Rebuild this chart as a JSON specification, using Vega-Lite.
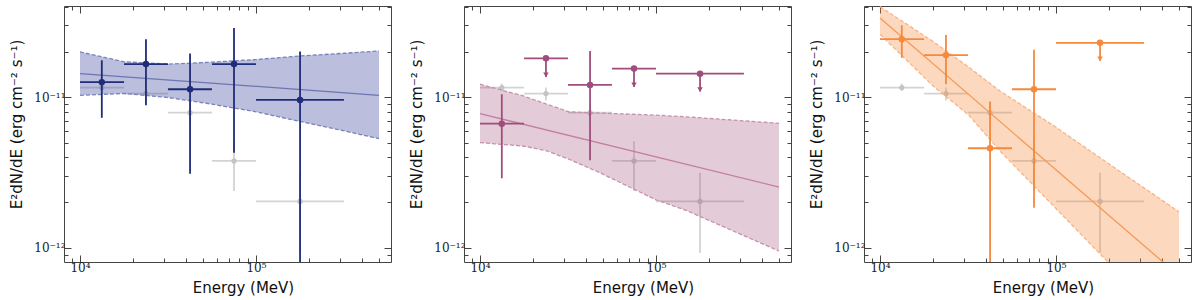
{
"$schema":"https://vega.github.io/schema/vega-lite/v6.json",
"autosize":{"type":"pad"},
"padding":{"left":8,"top":5,"right":5,"bottom":0},
"spacing":73,
"bounds":"flush",
"config":{
 "font":"DejaVu Sans",
 "view":{"stroke":"#444","strokeWidth":1},
 "axis":{"domain":false,"grid":false,"tickColor":"#444","tickWidth":1,"labelFont":"DejaVu Serif","labelColor":"#222","titleFont":"DejaVu Sans","titleFontSize":15,"titleFontWeight":"normal","titleColor":"#111","labelOverlap":false,"labelFlush":false,"labelBound":false}
},
"datasets":{
 "gray":[
  {"E":13300,"Elo":10000,"Ehi":17800,"F":1.16e-11,"Flo":1.1e-11,"Fhi":1.23e-11},
  {"E":23700,"Elo":17800,"Ehi":31600,"F":1.057e-11,"Flo":9.5e-12,"Fhi":1.16e-11},
  {"E":42200,"Elo":31600,"Ehi":56200,"F":7.9e-12,"Flo":6.8e-12,"Fhi":9.2e-12},
  {"E":75000,"Elo":56200,"Ehi":100000,"F":3.77e-12,"Flo":2.38e-12,"Fhi":5.1e-12},
  {"E":178000,"Elo":100000,"Ehi":316000,"F":2.03e-12,"Flo":9.25e-13,"Fhi":3.15e-12}
 ],
 "pts":[
  {"p":1,"E":13300,"Elo":10000,"Ehi":17800,"F":1.26e-11,"Flo":7.3e-12,"Fhi":1.76e-11},
  {"p":1,"E":23700,"Elo":17800,"Ehi":31600,"F":1.66e-11,"Flo":8.85e-12,"Fhi":2.43e-11},
  {"p":1,"E":42200,"Elo":31600,"Ehi":56200,"F":1.13e-11,"Flo":3.1e-12,"Fhi":1.95e-11},
  {"p":1,"E":75000,"Elo":56200,"Ehi":100000,"F":1.66e-11,"Flo":4.28e-12,"Fhi":2.88e-11},
  {"p":1,"E":178000,"Elo":100000,"Ehi":316000,"F":9.6e-12,"Flo":1e-13,"Fhi":2.01e-11},
  {"p":2,"E":13300,"Elo":10000,"Ehi":17800,"F":6.67e-12,"Flo":2.89e-12,"Fhi":1.047e-11},
  {"p":2,"E":42200,"Elo":31600,"Ehi":56200,"F":1.208e-11,"Flo":3.81e-12,"Fhi":2.03e-11},
  {"p":3,"E":13300,"Elo":10000,"Ehi":17800,"F":2.43e-11,"Flo":1.83e-11,"Fhi":3.01e-11},
  {"p":3,"E":23700,"Elo":17800,"Ehi":31600,"F":1.905e-11,"Flo":1.22e-11,"Fhi":2.59e-11},
  {"p":3,"E":42200,"Elo":31600,"Ehi":56200,"F":4.58e-12,"Flo":1e-13,"Fhi":9.35e-12},
  {"p":3,"E":75000,"Elo":56200,"Ehi":100000,"F":1.13e-11,"Flo":1.84e-12,"Fhi":2.07e-11}
 ],
 "uls":[
  {"p":2,"E":23700,"Elo":17800,"Ehi":31600,"F":1.815e-11,"Ftip":1.364e-11},
  {"p":2,"E":75000,"Elo":56200,"Ehi":100000,"F":1.55e-11,"Ftip":1.17e-11},
  {"p":2,"E":178000,"Elo":100000,"Ehi":316000,"F":1.435e-11,"Ftip":1.09e-11},
  {"p":3,"E":178000,"Elo":100000,"Ehi":316000,"F":2.3e-11,"Ftip":1.746e-11}
 ],
 "band":[
  {"p":1,"E":10000,"lo":1.03e-11,"hi":2.0e-11},
  {"p":1,"E":17800,"lo":1.06e-11,"hi":1.72e-11},
  {"p":1,"E":32000,"lo":9.94e-12,"hi":1.66e-11},
  {"p":1,"E":56000,"lo":9.0e-12,"hi":1.71e-11},
  {"p":1,"E":100000,"lo":8.0e-12,"hi":1.78e-11},
  {"p":1,"E":178000,"lo":6.9e-12,"hi":1.88e-11},
  {"p":1,"E":320000,"lo":5.96e-12,"hi":1.96e-11},
  {"p":1,"E":500000,"lo":5.3e-12,"hi":2.03e-11},
  {"p":2,"E":10000,"lo":4.99e-12,"hi":1.22e-11},
  {"p":2,"E":17600,"lo":4.74e-12,"hi":1.02e-11},
  {"p":2,"E":24000,"lo":4.4e-12,"hi":8.98e-12},
  {"p":2,"E":32000,"lo":3.87e-12,"hi":8.0e-12},
  {"p":2,"E":48000,"lo":3.15e-12,"hi":7.85e-12},
  {"p":2,"E":100000,"lo":2.08e-12,"hi":7.6e-12},
  {"p":2,"E":150000,"lo":1.76e-12,"hi":7.4e-12},
  {"p":2,"E":500000,"lo":9.5e-13,"hi":6.71e-12},
  {"p":3,"E":10000,"lo":2.62e-11,"hi":4.0e-11},
  {"p":3,"E":20000,"lo":1.19e-11,"hi":2.35e-11},
  {"p":3,"E":32000,"lo":7.6e-12,"hi":1.58e-11},
  {"p":3,"E":48000,"lo":4.4e-12,"hi":1.1e-11},
  {"p":3,"E":100000,"lo":1.82e-12,"hi":6.31e-12},
  {"p":3,"E":200000,"lo":7.9e-13,"hi":3.6e-12},
  {"p":3,"E":500000,"lo":2.6e-13,"hi":1.73e-12}
 ],
 "fit":[
  {"p":1,"E":10000,"F":1.437e-11},
  {"p":1,"E":500000,"F":1.03e-11},
  {"p":2,"E":10000,"F":7.78e-12},
  {"p":2,"E":500000,"F":2.53e-12},
  {"p":3,"E":10000,"F":3.36e-11},
  {"p":3,"E":500000,"F":6.5e-13}
 ]
},
"hconcat":[
{
 "width":327,"height":256,
 "resolve":{"axis":{"x":"independent","y":"independent"}},
 "layer":[
  {"data":{"name":"gray"},"mark":{"type":"rule","color":"#d3d3d3","strokeWidth":1.8},
   "encoding":{"x":{"field":"Elo","type":"quantitative","scale":{"type":"log","domain":[8110,585000],"nice":false},"axis":null},"x2":{"field":"Ehi"},
   "y":{"field":"F","type":"quantitative","scale":{"type":"log","domain":[8.03e-13,4.04e-11],"nice":false},"axis":null}}},
  {"data":{"name":"gray"},"mark":{"type":"rule","color":"#d3d3d3","strokeWidth":1.8,"clip":true},
   "encoding":{"x":{"field":"E","type":"quantitative","scale":{"type":"log","domain":[8110,585000],"nice":false},"axis":null},
   "y":{"field":"Flo","type":"quantitative","scale":{"type":"log","domain":[8.03e-13,4.04e-11],"nice":false},"axis":null},"y2":{"field":"Fhi"}}},
  {"data":{"name":"gray"},"mark":{"type":"point","filled":true,"color":"#c4c4c4","size":28,"opacity":1},
   "encoding":{"x":{"field":"E","type":"quantitative","scale":{"type":"log","domain":[8110,585000],"nice":false},"axis":null},
   "y":{"field":"F","type":"quantitative","scale":{"type":"log","domain":[8.03e-13,4.04e-11],"nice":false},"axis":null}}},
  {"data":{"name":"band"},"transform":[{"filter":"datum.p==1"}],"mark":{"type":"area","color":"#4652a3","opacity":0.37,"clip":true},
   "encoding":{"x":{"field":"E","type":"quantitative","scale":{"type":"log","domain":[8110,585000],"nice":false},
     "axis":{"orient":"bottom","values":[9000,10000,20000,30000,40000,50000,60000,70000,80000,90000,100000,200000,300000,400000,500000],"labelExpr":"datum.value==10000?'10⁴':(datum.value==100000?'10⁵':'')","labelFontSize":{"condition":{"test":"datum.value==10000||datum.value==100000","value":12},"value":0},"tickSize":{"condition":{"test":"datum.value==10000||datum.value==100000","value":-7},"value":-4},"labelPadding":16,"labelBaseline":"alphabetic","title":"Energy (MeV)","titleX":179,"titleY":30,"titleBaseline":"alphabetic"}},
   "y":{"field":"lo","type":"quantitative","scale":{"type":"log","domain":[8.03e-13,4.04e-11],"nice":false},
     "axis":{"orient":"left","values":[9e-13,1e-12,2e-12,3e-12,4e-12,5e-12,6e-12,7e-12,8e-12,9e-12,1e-11,2e-11,3e-11,4e-11],"labelExpr":"datum.value==1e-11?'10⁻¹¹':(datum.value==1e-12?'10⁻¹²':'')","labelFontSize":{"condition":{"test":"datum.value==1e-11||datum.value==1e-12","value":12},"value":0},"tickSize":{"condition":{"test":"datum.value==1e-11||datum.value==1e-12","value":-7},"value":-4},"labelPadding":6,"title":"E²dN/dE (erg cm⁻² s⁻¹)","titleX":-40,"titleY":118}},
   "y2":{"field":"hi"}}},
  {"data":{"name":"band"},"transform":[{"filter":"datum.p==1"}],"mark":{"type":"line","color":"#7883bb","strokeDash":[4,2],"strokeWidth":1.3,"clip":true},
   "encoding":{"x":{"field":"E","type":"quantitative","scale":{"type":"log","domain":[8110,585000],"nice":false},
     "axis":{"orient":"top","values":[9000,10000,20000,30000,40000,50000,60000,70000,80000,90000,100000,200000,300000,400000,500000],"labels":false,"tickSize":{"condition":{"test":"datum.value==10000||datum.value==100000","value":-7},"value":-4},"title":null}},
   "y":{"field":"hi","type":"quantitative","scale":{"type":"log","domain":[8.03e-13,4.04e-11],"nice":false},
     "axis":{"orient":"right","values":[9e-13,1e-12,2e-12,3e-12,4e-12,5e-12,6e-12,7e-12,8e-12,9e-12,1e-11,2e-11,3e-11,4e-11],"labels":false,"tickSize":{"condition":{"test":"datum.value==1e-11||datum.value==1e-12","value":-7},"value":-4},"title":null}}}},
  {"data":{"name":"band"},"transform":[{"filter":"datum.p==1"}],"mark":{"type":"line","color":"#7883bb","strokeDash":[4,2],"strokeWidth":1.3,"clip":true},
   "encoding":{"x":{"field":"E","type":"quantitative","scale":{"type":"log","domain":[8110,585000],"nice":false},"axis":null},
   "y":{"field":"lo","type":"quantitative","scale":{"type":"log","domain":[8.03e-13,4.04e-11],"nice":false},"axis":null}}},
  {"data":{"name":"fit"},"transform":[{"filter":"datum.p==1"}],"mark":{"type":"line","color":"#6b76b3","strokeWidth":1.3,"clip":true},
   "encoding":{"x":{"field":"E","type":"quantitative","scale":{"type":"log","domain":[8110,585000],"nice":false},"axis":null},
   "y":{"field":"F","type":"quantitative","scale":{"type":"log","domain":[8.03e-13,4.04e-11],"nice":false},"axis":null}}},
  {"data":{"name":"pts"},"transform":[{"filter":"datum.p==1"}],"mark":{"type":"rule","color":"#1f2c78","strokeWidth":1.8,"clip":true},
   "encoding":{"x":{"field":"Elo","type":"quantitative","scale":{"type":"log","domain":[8110,585000],"nice":false},"axis":null},"x2":{"field":"Ehi"},
   "y":{"field":"F","type":"quantitative","scale":{"type":"log","domain":[8.03e-13,4.04e-11],"nice":false},"axis":null}}},
  {"data":{"name":"pts"},"transform":[{"filter":"datum.p==1"}],"mark":{"type":"rule","color":"#1f2c78","strokeWidth":1.8,"clip":true},
   "encoding":{"x":{"field":"E","type":"quantitative","scale":{"type":"log","domain":[8110,585000],"nice":false},"axis":null},
   "y":{"field":"Flo","type":"quantitative","scale":{"type":"log","domain":[8.03e-13,4.04e-11],"nice":false},"axis":null},"y2":{"field":"Fhi"}}},
  {"data":{"name":"pts"},"transform":[{"filter":"datum.p==1"}],"mark":{"type":"point","filled":true,"color":"#1f2c78","size":42,"opacity":1},
   "encoding":{"x":{"field":"E","type":"quantitative","scale":{"type":"log","domain":[8110,585000],"nice":false},"axis":null},
   "y":{"field":"F","type":"quantitative","scale":{"type":"log","domain":[8.03e-13,4.04e-11],"nice":false},"axis":null}}}
 ]
},
{
 "width":327,"height":256,
 "resolve":{"axis":{"x":"independent","y":"independent"}},
 "layer":[
  {"data":{"name":"gray"},"mark":{"type":"rule","color":"#d3d3d3","strokeWidth":1.8},
   "encoding":{"x":{"field":"Elo","type":"quantitative","scale":{"type":"log","domain":[8110,585000],"nice":false},"axis":null},"x2":{"field":"Ehi"},
   "y":{"field":"F","type":"quantitative","scale":{"type":"log","domain":[8.03e-13,4.04e-11],"nice":false},"axis":null}}},
  {"data":{"name":"gray"},"mark":{"type":"rule","color":"#d3d3d3","strokeWidth":1.8,"clip":true},
   "encoding":{"x":{"field":"E","type":"quantitative","scale":{"type":"log","domain":[8110,585000],"nice":false},"axis":null},
   "y":{"field":"Flo","type":"quantitative","scale":{"type":"log","domain":[8.03e-13,4.04e-11],"nice":false},"axis":null},"y2":{"field":"Fhi"}}},
  {"data":{"name":"gray"},"mark":{"type":"point","filled":true,"color":"#c4c4c4","size":28,"opacity":1},
   "encoding":{"x":{"field":"E","type":"quantitative","scale":{"type":"log","domain":[8110,585000],"nice":false},"axis":null},
   "y":{"field":"F","type":"quantitative","scale":{"type":"log","domain":[8.03e-13,4.04e-11],"nice":false},"axis":null}}},
  {"data":{"name":"band"},"transform":[{"filter":"datum.p==2"}],"mark":{"type":"area","color":"#a6527f","opacity":0.3,"clip":true},
   "encoding":{"x":{"field":"E","type":"quantitative","scale":{"type":"log","domain":[8110,585000],"nice":false},
     "axis":{"orient":"bottom","values":[9000,10000,20000,30000,40000,50000,60000,70000,80000,90000,100000,200000,300000,400000,500000],"labelExpr":"datum.value==10000?'10⁴':(datum.value==100000?'10⁵':'')","labelFontSize":{"condition":{"test":"datum.value==10000||datum.value==100000","value":12},"value":0},"tickSize":{"condition":{"test":"datum.value==10000||datum.value==100000","value":-7},"value":-4},"labelPadding":16,"labelBaseline":"alphabetic","title":"Energy (MeV)","titleX":179,"titleY":30,"titleBaseline":"alphabetic"}},
   "y":{"field":"lo","type":"quantitative","scale":{"type":"log","domain":[8.03e-13,4.04e-11],"nice":false},
     "axis":{"orient":"left","values":[9e-13,1e-12,2e-12,3e-12,4e-12,5e-12,6e-12,7e-12,8e-12,9e-12,1e-11,2e-11,3e-11,4e-11],"labelExpr":"datum.value==1e-11?'10⁻¹¹':(datum.value==1e-12?'10⁻¹²':'')","labelFontSize":{"condition":{"test":"datum.value==1e-11||datum.value==1e-12","value":12},"value":0},"tickSize":{"condition":{"test":"datum.value==1e-11||datum.value==1e-12","value":-7},"value":-4},"labelPadding":6,"title":"E²dN/dE (erg cm⁻² s⁻¹)","titleX":-40,"titleY":118}},
   "y2":{"field":"hi"}}},
  {"data":{"name":"band"},"transform":[{"filter":"datum.p==2"}],"mark":{"type":"line","color":"#c691ad","strokeDash":[4,2],"strokeWidth":1.3,"clip":true},
   "encoding":{"x":{"field":"E","type":"quantitative","scale":{"type":"log","domain":[8110,585000],"nice":false},
     "axis":{"orient":"top","values":[9000,10000,20000,30000,40000,50000,60000,70000,80000,90000,100000,200000,300000,400000,500000],"labels":false,"tickSize":{"condition":{"test":"datum.value==10000||datum.value==100000","value":-7},"value":-4},"title":null}},
   "y":{"field":"hi","type":"quantitative","scale":{"type":"log","domain":[8.03e-13,4.04e-11],"nice":false},
     "axis":{"orient":"right","values":[9e-13,1e-12,2e-12,3e-12,4e-12,5e-12,6e-12,7e-12,8e-12,9e-12,1e-11,2e-11,3e-11,4e-11],"labels":false,"tickSize":{"condition":{"test":"datum.value==1e-11||datum.value==1e-12","value":-7},"value":-4},"title":null}}}},
  {"data":{"name":"band"},"transform":[{"filter":"datum.p==2"}],"mark":{"type":"line","color":"#c691ad","strokeDash":[4,2],"strokeWidth":1.3,"clip":true},
   "encoding":{"x":{"field":"E","type":"quantitative","scale":{"type":"log","domain":[8110,585000],"nice":false},"axis":null},
   "y":{"field":"lo","type":"quantitative","scale":{"type":"log","domain":[8.03e-13,4.04e-11],"nice":false},"axis":null}}},
  {"data":{"name":"fit"},"transform":[{"filter":"datum.p==2"}],"mark":{"type":"line","color":"#c27fa3","strokeWidth":1.3,"clip":true},
   "encoding":{"x":{"field":"E","type":"quantitative","scale":{"type":"log","domain":[8110,585000],"nice":false},"axis":null},
   "y":{"field":"F","type":"quantitative","scale":{"type":"log","domain":[8.03e-13,4.04e-11],"nice":false},"axis":null}}},
  {"data":{"name":"pts"},"transform":[{"filter":"datum.p==2"}],"mark":{"type":"rule","color":"#a04d7d","strokeWidth":1.8,"clip":true},
   "encoding":{"x":{"field":"Elo","type":"quantitative","scale":{"type":"log","domain":[8110,585000],"nice":false},"axis":null},"x2":{"field":"Ehi"},
   "y":{"field":"F","type":"quantitative","scale":{"type":"log","domain":[8.03e-13,4.04e-11],"nice":false},"axis":null}}},
  {"data":{"name":"pts"},"transform":[{"filter":"datum.p==2"}],"mark":{"type":"rule","color":"#a04d7d","strokeWidth":1.8,"clip":true},
   "encoding":{"x":{"field":"E","type":"quantitative","scale":{"type":"log","domain":[8110,585000],"nice":false},"axis":null},
   "y":{"field":"Flo","type":"quantitative","scale":{"type":"log","domain":[8.03e-13,4.04e-11],"nice":false},"axis":null},"y2":{"field":"Fhi"}}},
  {"data":{"name":"pts"},"transform":[{"filter":"datum.p==2"}],"mark":{"type":"point","filled":true,"color":"#a04d7d","size":42,"opacity":1},
   "encoding":{"x":{"field":"E","type":"quantitative","scale":{"type":"log","domain":[8110,585000],"nice":false},"axis":null},
   "y":{"field":"F","type":"quantitative","scale":{"type":"log","domain":[8.03e-13,4.04e-11],"nice":false},"axis":null}}},
  {"data":{"name":"uls"},"transform":[{"filter":"datum.p==2"}],"mark":{"type":"rule","color":"#a04d7d","strokeWidth":1.8},
   "encoding":{"x":{"field":"Elo","type":"quantitative","scale":{"type":"log","domain":[8110,585000],"nice":false},"axis":null},"x2":{"field":"Ehi"},
   "y":{"field":"F","type":"quantitative","scale":{"type":"log","domain":[8.03e-13,4.04e-11],"nice":false},"axis":null}}},
  {"data":{"name":"uls"},"transform":[{"filter":"datum.p==2"}],"mark":{"type":"rule","color":"#a04d7d","strokeWidth":1.8},
   "encoding":{"x":{"field":"E","type":"quantitative","scale":{"type":"log","domain":[8110,585000],"nice":false},"axis":null},
   "y":{"field":"F","type":"quantitative","scale":{"type":"log","domain":[8.03e-13,4.04e-11],"nice":false},"axis":null},"y2":{"field":"Ftip"}}},
  {"data":{"name":"uls"},"transform":[{"filter":"datum.p==2"}],"mark":{"type":"point","shape":"triangle-down","filled":true,"color":"#a04d7d","size":30,"opacity":1,"yOffset":-2},
   "encoding":{"x":{"field":"E","type":"quantitative","scale":{"type":"log","domain":[8110,585000],"nice":false},"axis":null},
   "y":{"field":"Ftip","type":"quantitative","scale":{"type":"log","domain":[8.03e-13,4.04e-11],"nice":false},"axis":null}}},
  {"data":{"name":"uls"},"transform":[{"filter":"datum.p==2"}],"mark":{"type":"point","filled":true,"color":"#a04d7d","size":42,"opacity":1},
   "encoding":{"x":{"field":"E","type":"quantitative","scale":{"type":"log","domain":[8110,585000],"nice":false},"axis":null},
   "y":{"field":"F","type":"quantitative","scale":{"type":"log","domain":[8.03e-13,4.04e-11],"nice":false},"axis":null}}}
 ]
},
{
 "width":327,"height":256,
 "resolve":{"axis":{"x":"independent","y":"independent"}},
 "layer":[
  {"data":{"name":"gray"},"mark":{"type":"rule","color":"#d3d3d3","strokeWidth":1.8},
   "encoding":{"x":{"field":"Elo","type":"quantitative","scale":{"type":"log","domain":[8110,585000],"nice":false},"axis":null},"x2":{"field":"Ehi"},
   "y":{"field":"F","type":"quantitative","scale":{"type":"log","domain":[8.03e-13,4.04e-11],"nice":false},"axis":null}}},
  {"data":{"name":"gray"},"mark":{"type":"rule","color":"#d3d3d3","strokeWidth":1.8,"clip":true},
   "encoding":{"x":{"field":"E","type":"quantitative","scale":{"type":"log","domain":[8110,585000],"nice":false},"axis":null},
   "y":{"field":"Flo","type":"quantitative","scale":{"type":"log","domain":[8.03e-13,4.04e-11],"nice":false},"axis":null},"y2":{"field":"Fhi"}}},
  {"data":{"name":"gray"},"mark":{"type":"point","filled":true,"color":"#c4c4c4","size":28,"opacity":1},
   "encoding":{"x":{"field":"E","type":"quantitative","scale":{"type":"log","domain":[8110,585000],"nice":false},"axis":null},
   "y":{"field":"F","type":"quantitative","scale":{"type":"log","domain":[8.03e-13,4.04e-11],"nice":false},"axis":null}}},
  {"data":{"name":"band"},"transform":[{"filter":"datum.p==3"}],"mark":{"type":"area","color":"#f7893c","opacity":0.33,"clip":true},
   "encoding":{"x":{"field":"E","type":"quantitative","scale":{"type":"log","domain":[8110,585000],"nice":false},
     "axis":{"orient":"bottom","values":[9000,10000,20000,30000,40000,50000,60000,70000,80000,90000,100000,200000,300000,400000,500000],"labelExpr":"datum.value==10000?'10⁴':(datum.value==100000?'10⁵':'')","labelFontSize":{"condition":{"test":"datum.value==10000||datum.value==100000","value":12},"value":0},"tickSize":{"condition":{"test":"datum.value==10000||datum.value==100000","value":-7},"value":-4},"labelPadding":16,"labelBaseline":"alphabetic","title":"Energy (MeV)","titleX":179,"titleY":30,"titleBaseline":"alphabetic"}},
   "y":{"field":"lo","type":"quantitative","scale":{"type":"log","domain":[8.03e-13,4.04e-11],"nice":false},
     "axis":{"orient":"left","values":[9e-13,1e-12,2e-12,3e-12,4e-12,5e-12,6e-12,7e-12,8e-12,9e-12,1e-11,2e-11,3e-11,4e-11],"labelExpr":"datum.value==1e-11?'10⁻¹¹':(datum.value==1e-12?'10⁻¹²':'')","labelFontSize":{"condition":{"test":"datum.value==1e-11||datum.value==1e-12","value":12},"value":0},"tickSize":{"condition":{"test":"datum.value==1e-11||datum.value==1e-12","value":-7},"value":-4},"labelPadding":6,"title":"E²dN/dE (erg cm⁻² s⁻¹)","titleX":-40,"titleY":118}},
   "y2":{"field":"hi"}}},
  {"data":{"name":"band"},"transform":[{"filter":"datum.p==3"}],"mark":{"type":"line","color":"#f8b486","strokeDash":[4,2],"strokeWidth":1.3,"clip":true},
   "encoding":{"x":{"field":"E","type":"quantitative","scale":{"type":"log","domain":[8110,585000],"nice":false},
     "axis":{"orient":"top","values":[9000,10000,20000,30000,40000,50000,60000,70000,80000,90000,100000,200000,300000,400000,500000],"labels":false,"tickSize":{"condition":{"test":"datum.value==10000||datum.value==100000","value":-7},"value":-4},"title":null}},
   "y":{"field":"hi","type":"quantitative","scale":{"type":"log","domain":[8.03e-13,4.04e-11],"nice":false},
     "axis":{"orient":"right","values":[9e-13,1e-12,2e-12,3e-12,4e-12,5e-12,6e-12,7e-12,8e-12,9e-12,1e-11,2e-11,3e-11,4e-11],"labels":false,"tickSize":{"condition":{"test":"datum.value==1e-11||datum.value==1e-12","value":-7},"value":-4},"title":null}}}},
  {"data":{"name":"band"},"transform":[{"filter":"datum.p==3"}],"mark":{"type":"line","color":"#f8b486","strokeDash":[4,2],"strokeWidth":1.3,"clip":true},
   "encoding":{"x":{"field":"E","type":"quantitative","scale":{"type":"log","domain":[8110,585000],"nice":false},"axis":null},
   "y":{"field":"lo","type":"quantitative","scale":{"type":"log","domain":[8.03e-13,4.04e-11],"nice":false},"axis":null}}},
  {"data":{"name":"fit"},"transform":[{"filter":"datum.p==3"}],"mark":{"type":"line","color":"#f59a55","strokeWidth":1.3,"clip":true},
   "encoding":{"x":{"field":"E","type":"quantitative","scale":{"type":"log","domain":[8110,585000],"nice":false},"axis":null},
   "y":{"field":"F","type":"quantitative","scale":{"type":"log","domain":[8.03e-13,4.04e-11],"nice":false},"axis":null}}},
  {"data":{"name":"pts"},"transform":[{"filter":"datum.p==3"}],"mark":{"type":"rule","color":"#f5893c","strokeWidth":1.8,"clip":true},
   "encoding":{"x":{"field":"Elo","type":"quantitative","scale":{"type":"log","domain":[8110,585000],"nice":false},"axis":null},"x2":{"field":"Ehi"},
   "y":{"field":"F","type":"quantitative","scale":{"type":"log","domain":[8.03e-13,4.04e-11],"nice":false},"axis":null}}},
  {"data":{"name":"pts"},"transform":[{"filter":"datum.p==3"}],"mark":{"type":"rule","color":"#f5893c","strokeWidth":1.8,"clip":true},
   "encoding":{"x":{"field":"E","type":"quantitative","scale":{"type":"log","domain":[8110,585000],"nice":false},"axis":null},
   "y":{"field":"Flo","type":"quantitative","scale":{"type":"log","domain":[8.03e-13,4.04e-11],"nice":false},"axis":null},"y2":{"field":"Fhi"}}},
  {"data":{"name":"pts"},"transform":[{"filter":"datum.p==3"}],"mark":{"type":"point","filled":true,"color":"#f5893c","size":42,"opacity":1},
   "encoding":{"x":{"field":"E","type":"quantitative","scale":{"type":"log","domain":[8110,585000],"nice":false},"axis":null},
   "y":{"field":"F","type":"quantitative","scale":{"type":"log","domain":[8.03e-13,4.04e-11],"nice":false},"axis":null}}},
  {"data":{"name":"uls"},"transform":[{"filter":"datum.p==3"}],"mark":{"type":"rule","color":"#f5893c","strokeWidth":1.8},
   "encoding":{"x":{"field":"Elo","type":"quantitative","scale":{"type":"log","domain":[8110,585000],"nice":false},"axis":null},"x2":{"field":"Ehi"},
   "y":{"field":"F","type":"quantitative","scale":{"type":"log","domain":[8.03e-13,4.04e-11],"nice":false},"axis":null}}},
  {"data":{"name":"uls"},"transform":[{"filter":"datum.p==3"}],"mark":{"type":"rule","color":"#f5893c","strokeWidth":1.8},
   "encoding":{"x":{"field":"E","type":"quantitative","scale":{"type":"log","domain":[8110,585000],"nice":false},"axis":null},
   "y":{"field":"F","type":"quantitative","scale":{"type":"log","domain":[8.03e-13,4.04e-11],"nice":false},"axis":null},"y2":{"field":"Ftip"}}},
  {"data":{"name":"uls"},"transform":[{"filter":"datum.p==3"}],"mark":{"type":"point","shape":"triangle-down","filled":true,"color":"#f5893c","size":30,"opacity":1,"yOffset":-2},
   "encoding":{"x":{"field":"E","type":"quantitative","scale":{"type":"log","domain":[8110,585000],"nice":false},"axis":null},
   "y":{"field":"Ftip","type":"quantitative","scale":{"type":"log","domain":[8.03e-13,4.04e-11],"nice":false},"axis":null}}},
  {"data":{"name":"uls"},"transform":[{"filter":"datum.p==3"}],"mark":{"type":"point","filled":true,"color":"#f5893c","size":42,"opacity":1},
   "encoding":{"x":{"field":"E","type":"quantitative","scale":{"type":"log","domain":[8110,585000],"nice":false},"axis":null},
   "y":{"field":"F","type":"quantitative","scale":{"type":"log","domain":[8.03e-13,4.04e-11],"nice":false},"axis":null}}}
 ]
}
]
}
